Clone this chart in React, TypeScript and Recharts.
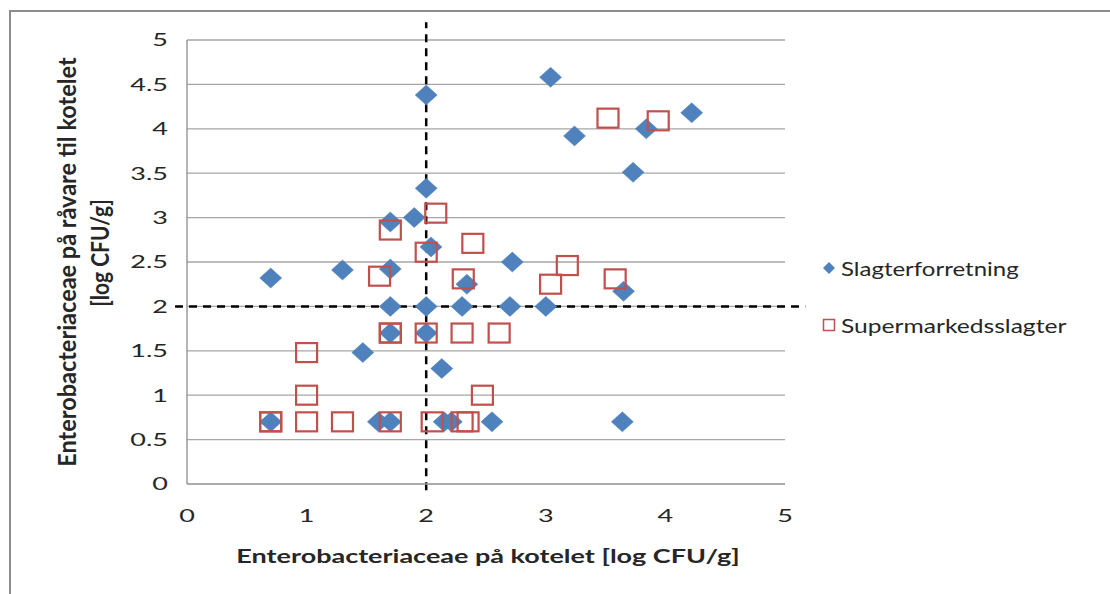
import React from 'react';
import {
  ScatterChart,
  Scatter,
  XAxis,
  YAxis,
  CartesianGrid,
  ReferenceLine,
} from 'recharts';

const xTicks = [0, 1, 2, 3, 4, 5];
const yTicks = [0, 0.5, 1, 1.5, 2, 2.5, 3, 3.5, 4, 4.5, 5];

const slagterX = [0.7, 1.3, 1.7, 1.7, 1.9, 2.0, 2.0, 2.04, 2.34, 1.7, 2.0, 2.3, 2.7, 3.0, 2.72, 3.65, 1.7, 2.0, 1.47, 2.13, 0.7, 1.6, 1.7, 2.15, 2.21, 2.55, 3.64, 3.04, 3.24, 3.84, 4.22, 3.73];
const slagterY = [2.32, 2.41, 2.42, 2.95, 3.0, 4.38, 3.33, 2.67, 2.25, 2.0, 2.0, 2.0, 2.0, 2.0, 2.5, 2.17, 1.7, 1.7, 1.48, 1.3, 0.7, 0.7, 0.7, 0.7, 0.7, 0.7, 0.7, 4.58, 3.92, 4.0, 4.18, 3.51];

const superX = [2.08, 1.7, 2.39, 2.0, 1.61, 2.31, 3.52, 3.94, 3.18, 3.04, 3.58, 1.7, 1.7, 2.0, 2.3, 2.61, 1.0, 1.0, 2.47, 0.7, 0.7, 1.0, 1.3, 1.7, 2.05, 2.3, 2.35];
const superY = [3.05, 2.86, 2.71, 2.61, 2.34, 2.31, 4.12, 4.09, 2.46, 2.25, 2.31, 1.7, 1.7, 1.7, 1.7, 1.7, 1.48, 1.0, 1.0, 0.7, 0.7, 0.7, 0.7, 0.7, 0.7, 0.7, 0.7];

const seriesNames = ['Slagterforretning', 'Supermarkedsslagter'];
const xTitle = 'Enterobacteriaceae på kotelet [log CFU/g]';
const yTitleLines = ['Enterobacteriaceae på råvare til kotelet', '[log CFU/g]'];
const thresholdX = 2;
const thresholdY = 2;

const slagterData = slagterX.map((x, i) => ({ x, y: slagterY[i] }));
const superData = superX.map((x, i) => ({ x, y: superY[i] }));

const BLUE = '#4F81BD';
const RED = '#C0504D';
const FONT = 'Lato, "Open Sans", sans-serif';
const TEXT = '#262626';

const Diamond = (props: any) => {
  const { cx, cy } = props;
  if (cx == null || cy == null) return null;
  const w = 11;
  const h = 10;
  return (
    <polygon
      points={`${cx},${cy - h} ${cx + w},${cy} ${cx},${cy + h} ${cx - w},${cy}`}
      fill={BLUE}
      stroke={BLUE}
      strokeWidth={0.5}
    />
  );
};

const Square = (props: any) => {
  const { cx, cy } = props;
  if (cx == null || cy == null) return null;
  return (
    <rect x={cx - 10.5} y={cy - 9.5} width={21} height={19} fill="none" stroke={RED} strokeWidth={2.2} />
  );
};

const YTick = (props: any) => {
  const { x, y, payload } = props;
  return (
    <g transform={`translate(${x},${y})`}>
      <text transform="scale(1.5,1)" textAnchor="end" dy="0.36em" fontSize={18} fontFamily={FONT} fill={TEXT}>
        {payload.value}
      </text>
    </g>
  );
};

const XTick = (props: any) => {
  const { x, y, payload } = props;
  return (
    <g transform={`translate(${x},${y})`}>
      <text transform="scale(1.5,1)" textAnchor="middle" dy="0.36em" fontSize={18} fontFamily={FONT} fill={TEXT}>
        {payload.value}
      </text>
    </g>
  );
};

const XTitle = (props: any) => {
  const { viewBox } = props;
  const cx = viewBox.x + viewBox.width / 2 + 2;
  return (
    <g transform={`translate(${cx},557)`}>
      <text transform="scale(1.5,1)" textAnchor="middle" dy="0.36em" fontSize={18} fontWeight="bold" fontFamily={FONT} fill={TEXT}>
        {xTitle}
      </text>
    </g>
  );
};

const YTitle = (props: any) => {
  const { viewBox } = props;
  const cy = viewBox.y + viewBox.height / 2;
  return (
    <g>
      <g transform={`translate(67,${cy}) scale(1.05,1) rotate(-90)`}>
        <text textAnchor="middle" dy="0.36em" fontSize={23.5} fontWeight="bold" fontFamily={FONT} fill={TEXT}>
          {yTitleLines[0]}
        </text>
      </g>
      <g transform={`translate(100,${cy - 9}) scale(1.15,1) rotate(-90)`}>
        <text textAnchor="middle" dy="0.36em" fontSize={21} fontWeight="bold" fontFamily={FONT} fill={TEXT}>
          {yTitleLines[1]}
        </text>
      </g>
    </g>
  );
};

const LegendBox = () => (
  <div style={{ position: 'absolute', left: 822, top: 254, width: 285, fontFamily: FONT, fontSize: 20, color: TEXT }}>
    <div style={{ display: 'flex', alignItems: 'center', height: 28 }}>
      <svg width={14} height={14} style={{ marginRight: 5 }}>
        <polygon points="7,1 13,7 7,13 1,7" fill={BLUE} />
      </svg>
      <span style={{ display: 'inline-block', transform: 'scaleX(1.2)', transformOrigin: 'left center' }}>{seriesNames[0]}</span>
    </div>
    <div style={{ display: 'flex', alignItems: 'center', height: 28, marginTop: 29 }}>
      <svg width={14} height={14} style={{ marginRight: 5 }}>
        <rect x={1.5} y={1.5} width={11} height={11} fill="none" stroke={RED} strokeWidth={1.5} />
      </svg>
      <span style={{ display: 'inline-block', transform: 'scaleX(1.23)', transformOrigin: 'left center' }}>{seriesNames[1]}</span>
    </div>
  </div>
);

export default function App() {
  return (
    <div style={{ position: 'absolute', left: 0, top: 0, width: 1110, height: 594, background: '#fff', overflow: 'hidden' }}>
      <div
        style={{
          position: 'absolute',
          left: 9,
          top: 10,
          width: 1110,
          height: 600,
          borderLeft: '2px solid #8c8c8c',
          borderTop: '2px solid #8c8c8c',
        }}
      />
      <div style={{ position: 'absolute', left: 0, top: 0 }}>
        <ScatterChart width={1110} height={594} margin={{ top: 40, right: 325, bottom: 50, left: 127 }}>
          <CartesianGrid vertical={false} stroke="#a6a6a6" strokeWidth={1.3} />
          <XAxis
            type="number"
            dataKey="x"
            domain={[0, 5]}
            ticks={xTicks}
            interval={0}
            height={60}
            tickLine={false}
            tickSize={0}
            tickMargin={32}
            axisLine={{ stroke: '#a6a6a6', strokeWidth: 1.3 }}
            tick={<XTick />}
            label={{ content: <XTitle /> } as any}
          />
          <YAxis
            type="number"
            dataKey="y"
            domain={[0, 5]}
            ticks={yTicks}
            interval={0}
            width={60}
            tickLine={false}
            tickSize={0}
            tickMargin={19}
            axisLine={{ stroke: '#8c8c8c', strokeWidth: 1.3 }}
            tick={<YTick />}
            label={{ content: <YTitle /> } as any}
          />
          <Scatter name={seriesNames[0]} data={slagterData} shape={<Diamond />} isAnimationActive={false} />
          <Scatter name={seriesNames[1]} data={superData} shape={<Square />} isAnimationActive={false} />
          <ReferenceLine
            segment={[{ x: thresholdX, y: -0.07 }, { x: thresholdX, y: 5.2 }]}
            stroke="#000"
            strokeWidth={2.5}
            strokeDasharray="8 6"
            ifOverflow="visible"
          />
          <ReferenceLine
            segment={[{ x: -0.1, y: thresholdY }, { x: 5.17, y: thresholdY }]}
            stroke="#000"
            strokeWidth={2.5}
            strokeDasharray="8 6"
            ifOverflow="visible"
          />
        </ScatterChart>
      </div>
      <LegendBox />
    </div>
  );
}
